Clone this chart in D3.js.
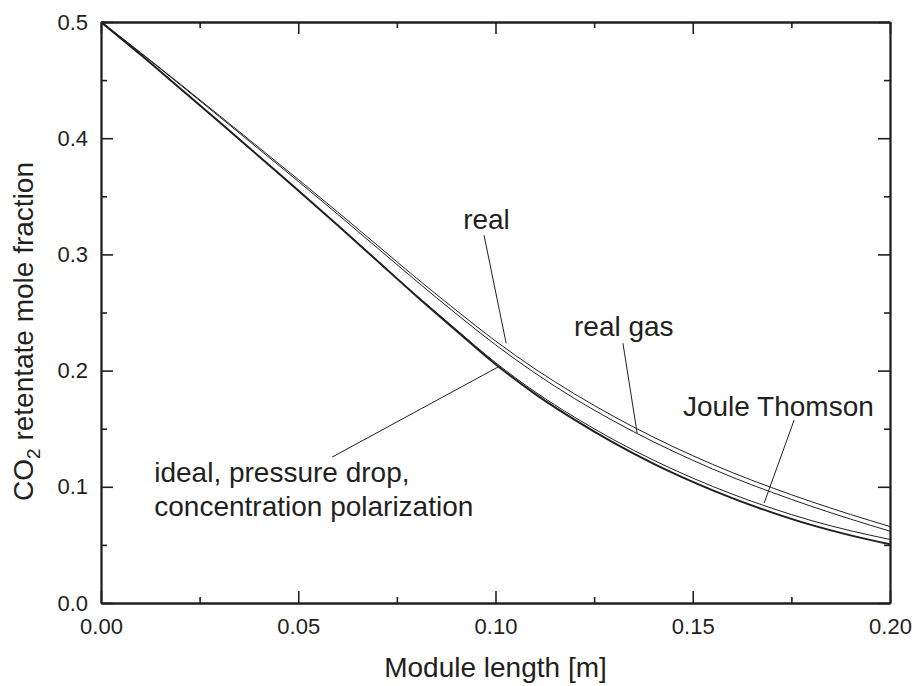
<!DOCTYPE html>
<html>
<head>
<meta charset="utf-8">
<script src="https://cdn.jsdelivr.net/npm/d3@7"></script>
<style>
  html, body { margin: 0; padding: 0; background: #fff; }
  svg { display: block; }
  text { font-family: "Liberation Sans", Arial, Helvetica, sans-serif; fill: #231f20; }
</style>
</head>
<body>
<svg id="chart" width="915" height="686"></svg>
<script>
// ---- data ----
const moduleLength = [0, 0.01, 0.02, 0.03, 0.04, 0.05, 0.06, 0.07, 0.08, 0.09, 0.10,
                      0.11, 0.12, 0.13, 0.14, 0.15, 0.16, 0.17, 0.18, 0.19, 0.20];
const ideal        = [0.5, 0.472, 0.443, 0.414, 0.3845, 0.355, 0.325, 0.2945, 0.264, 0.2345, 0.2055,
                      0.180, 0.1578, 0.1378, 0.120, 0.1043, 0.0903, 0.078, 0.0672, 0.0582, 0.0505];
const jouleThomson = [0.5, 0.472, 0.443, 0.414, 0.3845, 0.355, 0.325, 0.2948, 0.2646, 0.2355, 0.2069,
                      0.1818, 0.160, 0.1404, 0.123, 0.1075, 0.0937, 0.0816, 0.071, 0.0622, 0.0547];
const realGas      = [0.5, 0.4735, 0.4462, 0.4185, 0.3907, 0.3629, 0.3345, 0.3057, 0.2769, 0.249, 0.2222,
                      0.1979, 0.176, 0.1565, 0.1388, 0.1228, 0.1083, 0.0953, 0.0833, 0.0722, 0.0618];
const real         = [0.5, 0.4738, 0.4468, 0.4195, 0.392, 0.3645, 0.3365, 0.308, 0.2795, 0.252, 0.2255,
                      0.2015, 0.180, 0.1605, 0.1428, 0.1268, 0.1123, 0.0993, 0.0873, 0.0762, 0.0658];

const xMajorTicks = [0, 0.05, 0.10, 0.15, 0.20];
const xMinorTicks = [0.025, 0.075, 0.125, 0.175];
const yMajorTicks = [0, 0.1, 0.2, 0.3, 0.4, 0.5];
const yMinorTicks = [0.05, 0.15, 0.25, 0.35, 0.45];

// annotations: label anchor and leader line, in data units
const annotLabels  = ["real", "real gas", "Joule Thomson", "ideal, pressure drop,", "concentration polarization"];
const annotX       = [0.0918, 0.1199, 0.1475, 0.0135, 0.0135];
const annotY       = [0.3217, 0.2298, 0.1608, 0.1040, 0.0748];
const leaderFromX  = [0.0971, 0.1323, 0.1757, 0.0586];
const leaderFromY  = [0.3165, 0.2236, 0.1574, 0.1256];
const leaderToX    = [0.1027, 0.1359, 0.1681, 0.1006];
const leaderToY    = [0.2235, 0.1462, 0.0860, 0.2030];

// ---- layout ----
const W = 915, H = 686;
const margin = {left: 101, right: 25, top: 22, bottom: 83};
const svg = d3.select("#chart");
const x = d3.scaleLinear().domain([0, 0.2]).range([margin.left, W - margin.right]);
const y = d3.scaleLinear().domain([0, 0.5]).range([H - margin.bottom, margin.top]);
const ink = "#231f20";

// curves
const series = [
  {vals: ideal, w: 2.0},
  {vals: jouleThomson, w: 1.0},
  {vals: realGas, w: 1.0},
  {vals: real, w: 1.0}
];
const line = d3.line().x((d, i) => x(moduleLength[i])).y(d => y(d)).curve(d3.curveMonotoneX);
const gCurves = svg.append("g");
series.forEach(s => {
  gCurves.append("path").datum(s.vals).attr("d", line)
    .attr("fill", "none").attr("stroke", ink).attr("stroke-width", s.w);
});

// axes
const axisW = 1.8;
function styleAxis(g) {
  g.select(".domain").attr("stroke", ink).attr("stroke-width", axisW);
  g.selectAll(".tick line").attr("stroke", ink).attr("stroke-width", 1.6);
  g.selectAll("text").attr("font-size", 22).attr("fill", ink)
    .attr("font-family", '"Liberation Sans", Arial, sans-serif');
}
const bottomY = H - margin.bottom, topY = margin.top;
const leftX = margin.left, rightX = W - margin.right;

// bottom major with labels
svg.append("g").attr("transform", `translate(0,${bottomY})`)
  .call(d3.axisBottom(x).tickValues(xMajorTicks).tickSizeInner(-12).tickSizeOuter(0)
        .tickPadding(15).tickFormat(d3.format(".2f")))
  .call(styleAxis);
svg.append("g").attr("transform", `translate(0,${bottomY})`)
  .call(d3.axisBottom(x).tickValues(xMinorTicks).tickSizeInner(-6).tickSizeOuter(0).tickFormat(""))
  .call(styleAxis);
// top mirror
svg.append("g").attr("transform", `translate(0,${topY})`)
  .call(d3.axisTop(x).tickValues(xMajorTicks).tickSizeInner(-12).tickSizeOuter(0).tickFormat(""))
  .call(styleAxis);
svg.append("g").attr("transform", `translate(0,${topY})`)
  .call(d3.axisTop(x).tickValues(xMinorTicks).tickSizeInner(-6).tickSizeOuter(0).tickFormat(""))
  .call(styleAxis);
// left
svg.append("g").attr("transform", `translate(${leftX},0)`)
  .call(d3.axisLeft(y).tickValues(yMajorTicks).tickSizeInner(-12).tickSizeOuter(0)
        .tickPadding(13).tickFormat(d3.format(".1f")))
  .call(styleAxis);
svg.append("g").attr("transform", `translate(${leftX},0)`)
  .call(d3.axisLeft(y).tickValues(yMinorTicks).tickSizeInner(-6).tickSizeOuter(0).tickFormat(""))
  .call(styleAxis);
// right mirror
svg.append("g").attr("transform", `translate(${rightX},0)`)
  .call(d3.axisRight(y).tickValues(yMajorTicks).tickSizeInner(-12).tickSizeOuter(0).tickFormat(""))
  .call(styleAxis);
svg.append("g").attr("transform", `translate(${rightX},0)`)
  .call(d3.axisRight(y).tickValues(yMinorTicks).tickSizeInner(-6).tickSizeOuter(0).tickFormat(""))
  .call(styleAxis);

// axis titles
svg.append("text").attr("x", (leftX + rightX) / 2).attr("y", 677)
  .attr("text-anchor", "middle").attr("font-size", 28).text("Module length [m]");

const yt = svg.append("text").attr("transform", `translate(33,162) rotate(-90)`)
  .attr("text-anchor", "end").attr("font-size", 28);
yt.append("tspan").text("CO");
yt.append("tspan").attr("font-size", 19).attr("dy", 7).text("2");
yt.append("tspan").attr("dy", -7).text(" retentate mole fraction");

// annotations
const gA = svg.append("g");
leaderFromX.forEach((d, i) => {
  gA.append("line")
    .attr("x1", x(leaderFromX[i])).attr("y1", y(leaderFromY[i]))
    .attr("x2", x(leaderToX[i])).attr("y2", y(leaderToY[i]))
    .attr("stroke", ink).attr("stroke-width", 1);
});
annotLabels.forEach((t, i) => {
  gA.append("text").attr("x", x(annotX[i])).attr("y", y(annotY[i]))
    .attr("font-size", 28).text(t);
});
</script>
</body>
</html>
